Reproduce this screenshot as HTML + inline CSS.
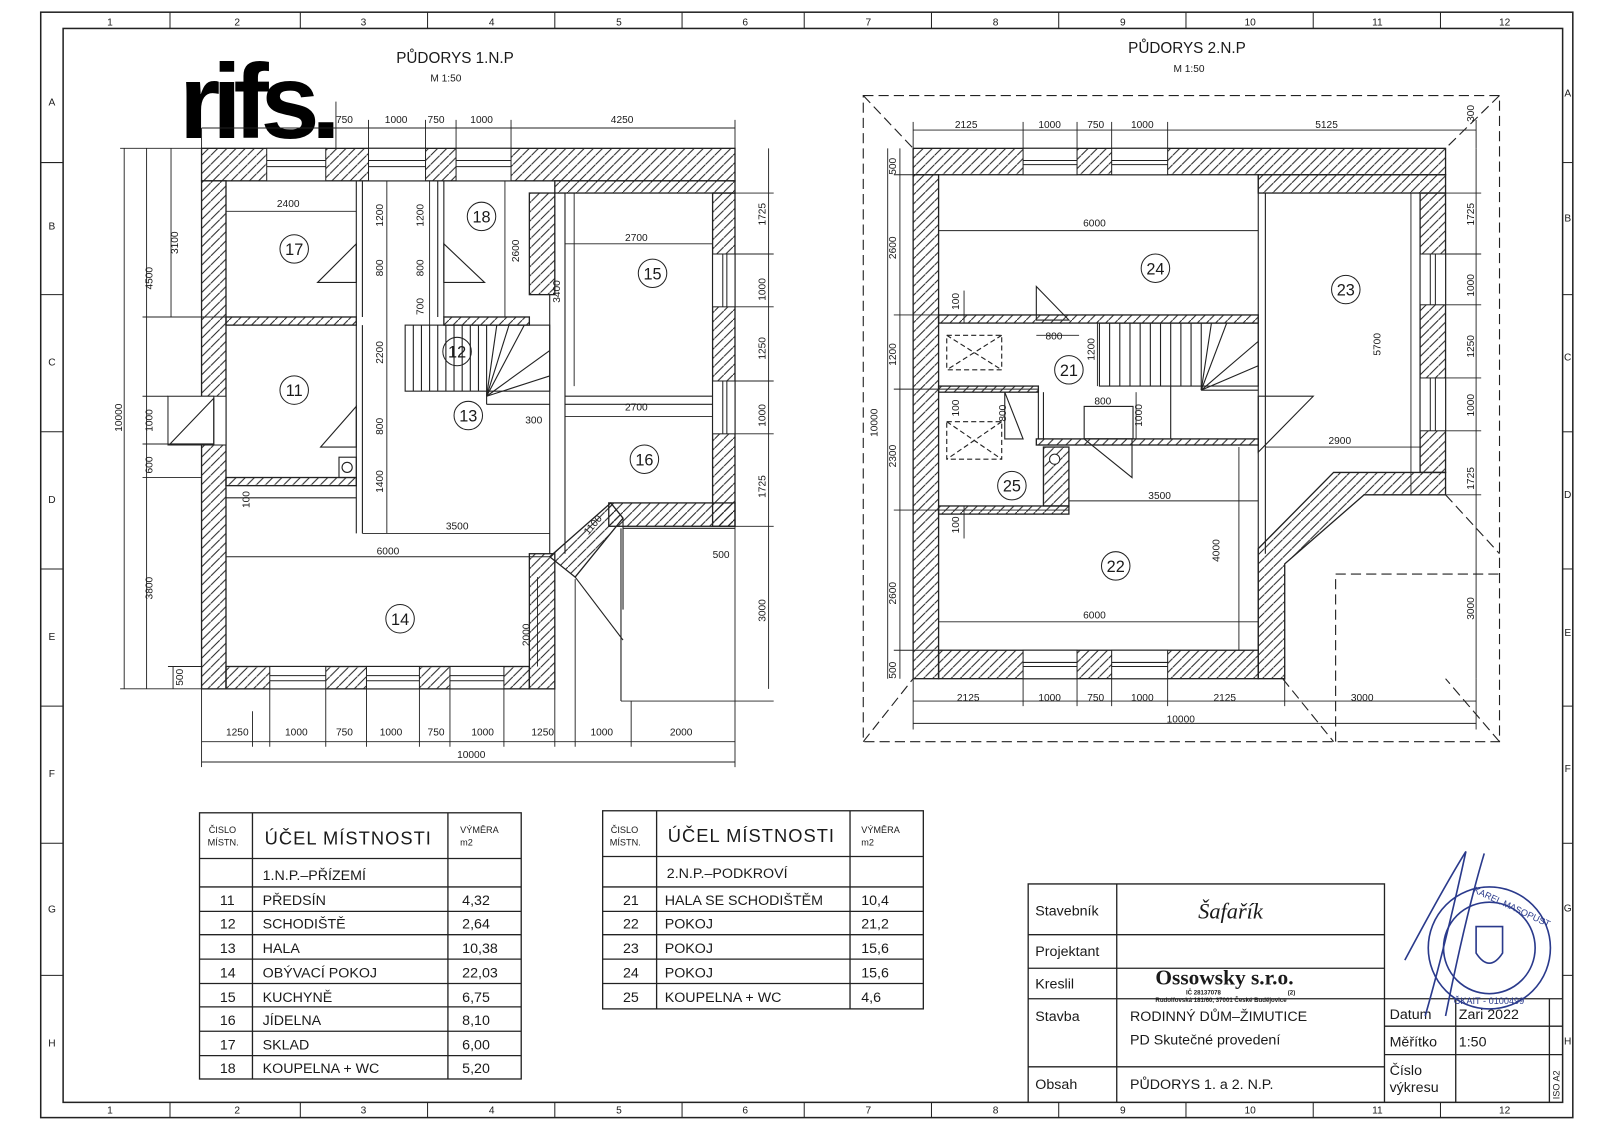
<!DOCTYPE html>
<html><head><meta charset="utf-8"><style>
html,body{margin:0;padding:0;background:#fff;}
svg{display:block;}
text{font-family:"Liberation Sans",sans-serif;fill:#1a1a1a;}
.d{font-size:10px;}
.t{font-size:14px;}
</style></head><body>
<svg width="1600" height="1138" viewBox="0 0 1600 1138" xmlns="http://www.w3.org/2000/svg">
<defs>
<pattern id="h" patternUnits="userSpaceOnUse" width="9" height="9"><path d="M-1,10 L10,-1" stroke="#222" stroke-width="1"/></pattern>
</defs>
<rect width="1600" height="1138" fill="#fff"/>
<g transform="scale(1.018,1.016)">
<!-- frame -->
<g fill="none" stroke="#222" stroke-width="1.5">
<rect x="40" y="12" width="1505" height="1088"/>
<rect x="62" y="28" width="1473" height="1057"/>
</g>
<g stroke="#222" stroke-width="1">
<line x1="167" y1="12" x2="167" y2="28"/><line x1="295" y1="12" x2="295" y2="28"/><line x1="420" y1="12" x2="420" y2="28"/><line x1="545" y1="12" x2="545" y2="28"/><line x1="670" y1="12" x2="670" y2="28"/><line x1="790" y1="12" x2="790" y2="28"/><line x1="915" y1="12" x2="915" y2="28"/><line x1="1040" y1="12" x2="1040" y2="28"/><line x1="1165" y1="12" x2="1165" y2="28"/><line x1="1290" y1="12" x2="1290" y2="28"/><line x1="1415" y1="12" x2="1415" y2="28"/>
<line x1="167" y1="1085" x2="167" y2="1100"/><line x1="295" y1="1085" x2="295" y2="1100"/><line x1="420" y1="1085" x2="420" y2="1100"/><line x1="545" y1="1085" x2="545" y2="1100"/><line x1="670" y1="1085" x2="670" y2="1100"/><line x1="790" y1="1085" x2="790" y2="1100"/><line x1="915" y1="1085" x2="915" y2="1100"/><line x1="1040" y1="1085" x2="1040" y2="1100"/><line x1="1165" y1="1085" x2="1165" y2="1100"/><line x1="1290" y1="1085" x2="1290" y2="1100"/><line x1="1415" y1="1085" x2="1415" y2="1100"/>
<line x1="40" y1="160" x2="62" y2="160"/><line x1="40" y1="290" x2="62" y2="290"/><line x1="40" y1="425" x2="62" y2="425"/><line x1="40" y1="560" x2="62" y2="560"/><line x1="40" y1="695" x2="62" y2="695"/><line x1="40" y1="830" x2="62" y2="830"/><line x1="40" y1="960" x2="62" y2="960"/>
<line x1="1535" y1="160" x2="1545" y2="160"/><line x1="1535" y1="290" x2="1545" y2="290"/><line x1="1535" y1="425" x2="1545" y2="425"/><line x1="1535" y1="560" x2="1545" y2="560"/><line x1="1535" y1="695" x2="1545" y2="695"/><line x1="1535" y1="830" x2="1545" y2="830"/><line x1="1535" y1="960" x2="1545" y2="960"/>
</g>
<g class="d" text-anchor="middle">
<text x="108" y="25">1</text><text x="233" y="25">2</text><text x="357" y="25">3</text><text x="483" y="25">4</text><text x="608" y="25">5</text><text x="732" y="25">6</text><text x="853" y="25">7</text><text x="978" y="25">8</text><text x="1103" y="25">9</text><text x="1228" y="25">10</text><text x="1353" y="25">11</text><text x="1478" y="25">12</text>
<text x="108" y="1096">1</text><text x="233" y="1096">2</text><text x="357" y="1096">3</text><text x="483" y="1096">4</text><text x="608" y="1096">5</text><text x="732" y="1096">6</text><text x="853" y="1096">7</text><text x="978" y="1096">8</text><text x="1103" y="1096">9</text><text x="1228" y="1096">10</text><text x="1353" y="1096">11</text><text x="1478" y="1096">12</text>
<text x="51" y="104">A</text><text x="51" y="226">B</text><text x="51" y="360">C</text><text x="51" y="495">D</text><text x="51" y="630">E</text><text x="51" y="765">F</text><text x="51" y="898">G</text><text x="51" y="1030">H</text>
<text x="1540" y="95">A</text><text x="1540" y="218">B</text><text x="1540" y="355">C</text><text x="1540" y="490">D</text><text x="1540" y="626">E</text><text x="1540" y="760">F</text><text x="1540" y="897">G</text><text x="1540" y="1028">H</text>
</g>

<!-- titles -->
<text x="447" y="62" text-anchor="middle" style="font-size:15px">PŮDORYS 1.N.P</text>
<text x="438" y="80" text-anchor="middle" class="d">M 1:50</text>
<text x="1166" y="52" text-anchor="middle" style="font-size:15px">PŮDORYS 2.N.P</text>
<text x="1168" y="71" text-anchor="middle" class="d">M 1:50</text>
<text x="176" y="136" style="font-size:104px;font-weight:bold;letter-spacing:-8px;fill:#000">rifs.</text>

<!-- ========== PLAN 1 ========== -->
<g stroke="#222" stroke-width="1.3" fill="url(#h)">
<rect x="198" y="146" width="524" height="32"/>
<rect x="545" y="178" width="177" height="12"/>
<rect x="198" y="178" width="24" height="500"/>
<rect x="700" y="190" width="22" height="328"/>
<rect x="598" y="495" width="124" height="23"/>
<polygon points="540,548 600,495 612,510 565,568"/>
<rect x="520" y="545" width="25" height="133"/>
<rect x="222" y="656" width="298" height="22"/>
<rect x="520" y="190" width="25" height="100"/>
<rect x="222" y="312" width="128" height="8"/>
<rect x="222" y="470" width="128" height="8"/>
<rect x="436" y="312" width="84" height="8"/>
</g>
<g stroke="#222" stroke-width="1" fill="#fff">
<rect x="262" y="146" width="58" height="32"/><line x1="262" y1="158" x2="320" y2="158"/><line x1="262" y1="164" x2="320" y2="164"/>
<rect x="362" y="146" width="56" height="32"/><line x1="362" y1="158" x2="418" y2="158"/><line x1="362" y1="164" x2="418" y2="164"/>
<rect x="448" y="146" width="54" height="32"/><line x1="448" y1="158" x2="502" y2="158"/><line x1="448" y1="164" x2="502" y2="164"/>
<rect x="265" y="656" width="55" height="22"/><line x1="265" y1="665" x2="320" y2="665"/><line x1="265" y1="670" x2="320" y2="670"/>
<rect x="360" y="656" width="52" height="22"/><line x1="360" y1="665" x2="412" y2="665"/><line x1="360" y1="670" x2="412" y2="670"/>
<rect x="442" y="656" width="53" height="22"/><line x1="442" y1="665" x2="495" y2="665"/><line x1="442" y1="670" x2="495" y2="670"/>
<rect x="700" y="250" width="22" height="52"/><line x1="710" y1="250" x2="710" y2="302"/><line x1="714" y1="250" x2="714" y2="302"/>
<rect x="700" y="375" width="22" height="52"/><line x1="710" y1="375" x2="710" y2="427"/><line x1="714" y1="375" x2="714" y2="427"/>
<rect x="198" y="390" width="24" height="48"/>
<rect x="165" y="390" width="45" height="48"/>
</g>
<g stroke="#222" stroke-width="1.1" fill="none">
<line x1="350" y1="178" x2="350" y2="312"/><line x1="356" y1="178" x2="356" y2="312"/>
<line x1="430" y1="178" x2="430" y2="312"/><line x1="436" y1="178" x2="436" y2="312"/>
<line x1="350" y1="320" x2="350" y2="525"/><line x1="356" y1="320" x2="356" y2="525"/>
<line x1="540" y1="290" x2="540" y2="545"/><line x1="555" y1="190" x2="555" y2="545"/>
<line x1="555" y1="390" x2="700" y2="390"/><line x1="555" y1="398" x2="700" y2="398"/>
<line x1="222" y1="490" x2="350" y2="490"/>
<rect x="398" y="320" width="142" height="65"/>
<line x1="406" y1="320" x2="406" y2="385"/><line x1="414" y1="320" x2="414" y2="385"/><line x1="422" y1="320" x2="422" y2="385"/><line x1="430" y1="320" x2="430" y2="385"/><line x1="438" y1="320" x2="438" y2="385"/><line x1="446" y1="320" x2="446" y2="385"/><line x1="454" y1="320" x2="454" y2="385"/><line x1="462" y1="320" x2="462" y2="385"/><line x1="470" y1="320" x2="470" y2="385"/>
<line x1="478" y1="390" x2="478" y2="320"/><line x1="478" y1="390" x2="488" y2="320"/><line x1="478" y1="390" x2="500" y2="320"/><line x1="478" y1="390" x2="515" y2="320"/><line x1="478" y1="390" x2="540" y2="345"/><line x1="478" y1="390" x2="540" y2="370"/>
<line x1="478" y1="390" x2="478" y2="398"/><line x1="478" y1="398" x2="540" y2="398"/>
<polygon points="312,278 350,240 350,278"/>
<polygon points="436,240 476,278 436,278"/>
<polygon points="315,440 350,400 350,440"/>
<polygon points="167,437 210,392 210,437"/>
<line x1="565" y1="568" x2="612" y2="630"/><line x1="612" y1="510" x2="612" y2="600"/>
<line x1="612" y1="520" x2="722" y2="520"/>
<line x1="610" y1="520" x2="610" y2="690"/>
<rect x="333" y="450" width="17" height="20"/><circle cx="341" cy="460" r="5"/>
</g>
<g stroke="#222" stroke-width="0.9" fill="none">
<line x1="198" y1="126" x2="722" y2="126"/>
<line x1="198" y1="126" x2="198" y2="146"/><line x1="362" y1="118" x2="362" y2="146"/><line x1="418" y1="118" x2="418" y2="146"/><line x1="448" y1="118" x2="448" y2="146"/><line x1="502" y1="118" x2="502" y2="146"/><line x1="722" y1="118" x2="722" y2="146"/>
<line x1="198" y1="730" x2="722" y2="730"/><line x1="198" y1="750" x2="722" y2="750"/>
<line x1="198" y1="678" x2="198" y2="755"/><line x1="248" y1="700" x2="248" y2="735"/><line x1="265" y1="678" x2="265" y2="735"/><line x1="320" y1="678" x2="320" y2="735"/><line x1="360" y1="678" x2="360" y2="735"/><line x1="412" y1="678" x2="412" y2="735"/><line x1="442" y1="678" x2="442" y2="735"/><line x1="495" y1="678" x2="495" y2="735"/><line x1="545" y1="678" x2="545" y2="735"/><line x1="565" y1="570" x2="565" y2="735"/><line x1="620" y1="690" x2="620" y2="735"/><line x1="722" y1="518" x2="722" y2="755"/>
<line x1="122" y1="146" x2="122" y2="678"/><line x1="144" y1="146" x2="144" y2="678"/><line x1="168" y1="146" x2="168" y2="312"/><line x1="170" y1="656" x2="170" y2="678"/>
<line x1="118" y1="146" x2="198" y2="146"/><line x1="118" y1="678" x2="198" y2="678"/><line x1="140" y1="390" x2="165" y2="390"/><line x1="140" y1="437" x2="198" y2="437"/><line x1="140" y1="470" x2="198" y2="470"/><line x1="140" y1="312" x2="222" y2="312"/><line x1="165" y1="656" x2="198" y2="656"/>
<line x1="755" y1="146" x2="755" y2="678"/>
<line x1="722" y1="190" x2="760" y2="190"/><line x1="722" y1="250" x2="760" y2="250"/><line x1="722" y1="302" x2="760" y2="302"/><line x1="722" y1="375" x2="760" y2="375"/><line x1="722" y1="427" x2="760" y2="427"/><line x1="722" y1="518" x2="760" y2="518"/><line x1="610" y1="690" x2="760" y2="690"/>
<line x1="222" y1="208" x2="350" y2="208"/><line x1="555" y1="240" x2="700" y2="240"/><line x1="555" y1="410" x2="700" y2="410"/>
<line x1="356" y1="525" x2="540" y2="525"/><line x1="222" y1="548" x2="540" y2="548"/>
<line x1="380" y1="178" x2="380" y2="525"/><line x1="422" y1="178" x2="422" y2="320"/><line x1="496" y1="178" x2="496" y2="312"/><line x1="564" y1="190" x2="564" y2="380"/><line x1="528" y1="568" x2="528" y2="656"/>
<line x1="330" y1="100" x2="330" y2="146"/>
</g>
<g class="d">
<text x="600" y="121">4250</text><text x="378" y="121">1000</text><text x="420" y="121">750</text><text x="462" y="121">1000</text><text x="330" y="121">750</text>
<text x="222" y="724">1250</text><text x="280" y="724">1000</text><text x="330" y="724">750</text><text x="373" y="724">1000</text><text x="420" y="724">750</text><text x="463" y="724">1000</text><text x="522" y="724">1250</text><text x="580" y="724">1000</text><text x="658" y="724">2000</text>
<text x="449" y="746">10000</text>
<text x="272" y="204">2400</text><text x="614" y="237">2700</text><text x="614" y="404">2700</text><text x="438" y="521">3500</text><text x="370" y="546">6000</text><text x="516" y="417">300</text><text x="700" y="549">500</text>
</g>
<g class="d">
<text transform="translate(120,425) rotate(-90)">10000</text>
<text transform="translate(150,285) rotate(-90)">4500</text>
<text transform="translate(175,250) rotate(-90)">3100</text>
<text transform="translate(150,425) rotate(-90)">1000</text>
<text transform="translate(150,466) rotate(-90)">600</text>
<text transform="translate(150,590) rotate(-90)">3800</text>
<text transform="translate(180,675) rotate(-90)">500</text>
<text transform="translate(245,500) rotate(-90)">100</text>
<text transform="translate(376,223) rotate(-90)">1200</text>
<text transform="translate(376,272) rotate(-90)">800</text>
<text transform="translate(376,358) rotate(-90)">2200</text>
<text transform="translate(376,428) rotate(-90)">800</text>
<text transform="translate(376,485) rotate(-90)">1400</text>
<text transform="translate(416,223) rotate(-90)">1200</text>
<text transform="translate(416,272) rotate(-90)">800</text>
<text transform="translate(416,310) rotate(-90)">700</text>
<text transform="translate(510,258) rotate(-90)">2600</text>
<text transform="translate(550,298) rotate(-90)">3400</text>
<text transform="translate(520,636) rotate(-90)">2000</text>
<text transform="translate(578,527) rotate(-50)">1100</text>
<text transform="translate(752,222) rotate(-90)">1725</text>
<text transform="translate(752,296) rotate(-90)">1000</text>
<text transform="translate(752,354) rotate(-90)">1250</text>
<text transform="translate(752,420) rotate(-90)">1000</text>
<text transform="translate(752,490) rotate(-90)">1725</text>
<text transform="translate(752,612) rotate(-90)">3000</text>
</g>
<g fill="none" stroke="#222" stroke-width="1"><circle cx="289" cy="245" r="14"/><circle cx="473" cy="213" r="14"/><circle cx="641" cy="269" r="14"/><circle cx="449" cy="346" r="14"/><circle cx="289" cy="384" r="14"/><circle cx="460" cy="409" r="14"/><circle cx="633" cy="452" r="14"/><circle cx="393" cy="609" r="14"/></g>
<g style="font-size:16px" text-anchor="middle"><text x="289" y="251">17</text><text x="473" y="219">18</text><text x="641" y="275">15</text><text x="449" y="352">12</text><text x="289" y="390">11</text><text x="460" y="415">13</text><text x="633" y="458">16</text><text x="393" y="615">14</text></g>

<!-- ========== PLAN 2 ========== -->
<g stroke="#222" stroke-width="1.1" fill="none" stroke-dasharray="10,5">
<rect x="848" y="94" width="625" height="636"/>
<line x1="848" y1="94" x2="897" y2="146"/><line x1="1473" y1="94" x2="1420" y2="146"/><line x1="848" y1="730" x2="897" y2="668"/><line x1="1473" y1="730" x2="1420" y2="668"/><line x1="1260" y1="668" x2="1310" y2="730"/><line x1="1420" y1="487" x2="1473" y2="545"/>
<polyline points="1312,730 1312,565 1473,565"/>
</g>
<g stroke="#222" stroke-width="1.3" fill="url(#h)">
<rect x="897" y="146" width="523" height="26"/>
<rect x="1236" y="172" width="184" height="18"/>
<rect x="897" y="172" width="25" height="496"/>
<rect x="1395" y="190" width="25" height="275"/>
<polygon points="1395,465 1420,465 1420,487 1340,487 1262,555 1262,668 1236,668 1236,540 1310,465"/>
<rect x="922" y="640" width="314" height="28"/>
<rect x="922" y="310" width="314" height="8"/>
<rect x="922" y="380" width="98" height="6"/>
<rect x="1018" y="432" width="218" height="6"/>
<rect x="922" y="498" width="128" height="8"/>
<rect x="1025" y="440" width="25" height="58"/>
</g>
<g stroke="#222" stroke-width="1" fill="#fff">
<rect x="1005" y="146" width="53" height="26"/><line x1="1005" y1="158" x2="1058" y2="158"/><line x1="1005" y1="162" x2="1058" y2="162"/>
<rect x="1092" y="146" width="55" height="26"/><line x1="1092" y1="158" x2="1147" y2="158"/><line x1="1092" y1="162" x2="1147" y2="162"/>
<rect x="1005" y="640" width="53" height="28"/><line x1="1005" y1="652" x2="1058" y2="652"/><line x1="1005" y1="656" x2="1058" y2="656"/>
<rect x="1092" y="640" width="55" height="28"/><line x1="1092" y1="652" x2="1147" y2="652"/><line x1="1092" y1="656" x2="1147" y2="656"/>
<rect x="1395" y="250" width="25" height="50"/><line x1="1405" y1="250" x2="1405" y2="300"/><line x1="1410" y1="250" x2="1410" y2="300"/>
<rect x="1395" y="372" width="25" height="52"/><line x1="1405" y1="372" x2="1405" y2="424"/><line x1="1410" y1="372" x2="1410" y2="424"/>
<circle cx="1036" cy="452" r="5"/>
</g>
<g stroke="#222" stroke-width="1.1" fill="none">
<line x1="1236" y1="172" x2="1236" y2="640"/><line x1="1243" y1="190" x2="1243" y2="545"/>
<line x1="1020" y1="386" x2="1020" y2="432"/><line x1="1025" y1="386" x2="1025" y2="432"/>
<rect x="1080" y="318" width="156" height="62"/>
<line x1="1090" y1="318" x2="1090" y2="380"/><line x1="1100" y1="318" x2="1100" y2="380"/><line x1="1110" y1="318" x2="1110" y2="380"/><line x1="1120" y1="318" x2="1120" y2="380"/><line x1="1130" y1="318" x2="1130" y2="380"/><line x1="1140" y1="318" x2="1140" y2="380"/><line x1="1150" y1="318" x2="1150" y2="380"/><line x1="1160" y1="318" x2="1160" y2="380"/><line x1="1170" y1="318" x2="1170" y2="380"/>
<line x1="1180" y1="384" x2="1180" y2="318"/><line x1="1180" y1="384" x2="1190" y2="318"/><line x1="1180" y1="384" x2="1205" y2="318"/><line x1="1180" y1="384" x2="1236" y2="336"/><line x1="1180" y1="384" x2="1236" y2="360"/>
<line x1="1180" y1="384" x2="1236" y2="384"/><line x1="1150" y1="380" x2="1150" y2="432"/>
<polygon points="1018,315 1018,282 1050,315"/>
<polygon points="1065,432 1112,432 1112,470"/>
<polygon points="1236,390 1290,390 1236,445"/>
<polygon points="987,386 987,432 1005,432"/>
<rect x="1065" y="400" width="48" height="32"/>
<g stroke-dasharray="5,3"><rect x="930" y="330" width="54" height="34"/><line x1="930" y1="330" x2="984" y2="364"/><line x1="984" y1="330" x2="930" y2="364"/><rect x="930" y="415" width="54" height="37"/><line x1="930" y1="415" x2="984" y2="452"/><line x1="984" y1="415" x2="930" y2="452"/></g>
</g>
<g stroke="#222" stroke-width="0.9" fill="none">
<line x1="897" y1="128" x2="1450" y2="128"/>
<line x1="897" y1="120" x2="897" y2="146"/><line x1="1005" y1="120" x2="1005" y2="146"/><line x1="1058" y1="120" x2="1058" y2="146"/><line x1="1092" y1="120" x2="1092" y2="146"/><line x1="1147" y1="120" x2="1147" y2="146"/><line x1="1450" y1="118" x2="1450" y2="146"/>
<line x1="897" y1="690" x2="1450" y2="690"/><line x1="897" y1="712" x2="1450" y2="712"/>
<line x1="897" y1="668" x2="897" y2="718"/><line x1="1005" y1="668" x2="1005" y2="695"/><line x1="1058" y1="668" x2="1058" y2="695"/><line x1="1092" y1="668" x2="1092" y2="695"/><line x1="1147" y1="668" x2="1147" y2="695"/><line x1="1262" y1="668" x2="1262" y2="695"/><line x1="1450" y1="668" x2="1450" y2="718"/>
<line x1="872" y1="146" x2="872" y2="668"/><line x1="884" y1="146" x2="884" y2="668"/>
<line x1="878" y1="172" x2="922" y2="172"/><line x1="878" y1="310" x2="922" y2="310"/><line x1="878" y1="383" x2="1020" y2="383"/><line x1="878" y1="502" x2="1050" y2="502"/><line x1="878" y1="640" x2="922" y2="640"/>
<line x1="1450" y1="146" x2="1450" y2="668"/>
<line x1="1420" y1="190" x2="1455" y2="190"/><line x1="1420" y1="250" x2="1455" y2="250"/><line x1="1420" y1="300" x2="1455" y2="300"/><line x1="1420" y1="372" x2="1455" y2="372"/><line x1="1420" y1="424" x2="1455" y2="424"/><line x1="1420" y1="487" x2="1455" y2="487"/>
<line x1="922" y1="227" x2="1236" y2="227"/><line x1="922" y1="612" x2="1236" y2="612"/><line x1="1050" y1="493" x2="1236" y2="493"/><line x1="1243" y1="440" x2="1395" y2="440"/>
<line x1="1018" y1="330" x2="1060" y2="330"/><line x1="1065" y1="400" x2="1113" y2="400"/>
<line x1="1386" y1="190" x2="1386" y2="487"/><line x1="1217" y1="440" x2="1217" y2="640"/><line x1="1078" y1="318" x2="1078" y2="380"/><line x1="1116" y1="386" x2="1116" y2="432"/><line x1="947" y1="286" x2="947" y2="318"/><line x1="947" y1="498" x2="947" y2="530"/>
</g>
<g class="d">
<text x="938" y="126">2125</text><text x="1020" y="126">1000</text><text x="1068" y="126">750</text><text x="1111" y="126">1000</text><text x="1292" y="126">5125</text>
<text x="940" y="690">2125</text><text x="1020" y="690">1000</text><text x="1068" y="690">750</text><text x="1111" y="690">1000</text><text x="1192" y="690">2125</text><text x="1327" y="690">3000</text>
<text x="1146" y="711">10000</text>
<text x="1064" y="223">6000</text><text x="1064" y="609">6000</text><text x="1128" y="491">3500</text><text x="1305" y="437">2900</text><text x="1027" y="334">800</text><text x="1075" y="398">800</text>
</g>
<g class="d">
<text transform="translate(880,172) rotate(-90)">500</text>
<text transform="translate(880,255) rotate(-90)">2600</text>
<text transform="translate(880,360) rotate(-90)">1200</text>
<text transform="translate(862,430) rotate(-90)">10000</text>
<text transform="translate(880,460) rotate(-90)">2300</text>
<text transform="translate(880,595) rotate(-90)">2600</text>
<text transform="translate(880,668) rotate(-90)">500</text>
<text transform="translate(942,305) rotate(-90)">100</text>
<text transform="translate(942,410) rotate(-90)">100</text>
<text transform="translate(942,525) rotate(-90)">100</text>
<text transform="translate(988,415) rotate(-90)">800</text>
<text transform="translate(1075,355) rotate(-90)">1200</text>
<text transform="translate(1122,420) rotate(-90)">1000</text>
<text transform="translate(1198,553) rotate(-90)">4000</text>
<text transform="translate(1356,350) rotate(-90)">5700</text>
<text transform="translate(1448,120) rotate(-90)">300</text>
<text transform="translate(1448,222) rotate(-90)">1725</text>
<text transform="translate(1448,292) rotate(-90)">1000</text>
<text transform="translate(1448,352) rotate(-90)">1250</text>
<text transform="translate(1448,410) rotate(-90)">1000</text>
<text transform="translate(1448,482) rotate(-90)">1725</text>
<text transform="translate(1448,610) rotate(-90)">3000</text>
</g>
<g fill="none" stroke="#222" stroke-width="1"><circle cx="1135" cy="264" r="14"/><circle cx="1322" cy="285" r="14"/><circle cx="1050" cy="364" r="14"/><circle cx="994" cy="478" r="14"/><circle cx="1096" cy="557" r="14"/></g>
<g style="font-size:16px" text-anchor="middle"><text x="1135" y="270">24</text><text x="1322" y="291">23</text><text x="1050" y="370">21</text><text x="994" y="484">25</text><text x="1096" y="563">22</text></g>

<!-- ========== TABLES ========== -->
<g stroke="#222" stroke-width="1.3" fill="none">
<rect x="196" y="800" width="316" height="262"/>
<line x1="248" y1="800" x2="248" y2="1062"/><line x1="440" y1="800" x2="440" y2="1062"/>
<line x1="196" y1="845" x2="512" y2="845"/><line x1="196" y1="873" x2="512" y2="873"/><line x1="196" y1="897" x2="512" y2="897"/><line x1="196" y1="920" x2="512" y2="920"/><line x1="196" y1="944" x2="512" y2="944"/><line x1="196" y1="968" x2="512" y2="968"/><line x1="196" y1="991" x2="512" y2="991"/><line x1="196" y1="1015" x2="512" y2="1015"/><line x1="196" y1="1039" x2="512" y2="1039"/>
<rect x="592" y="798" width="315" height="195"/>
<line x1="645" y1="798" x2="645" y2="993"/><line x1="835" y1="798" x2="835" y2="993"/>
<line x1="592" y1="843" x2="907" y2="843"/><line x1="592" y1="873" x2="907" y2="873"/><line x1="592" y1="897" x2="907" y2="897"/><line x1="592" y1="920" x2="907" y2="920"/><line x1="592" y1="944" x2="907" y2="944"/><line x1="592" y1="968" x2="907" y2="968"/>
</g>
<g style="font-size:9px"><text x="205" y="820">ČISLO</text><text x="204" y="832">MÍSTN.</text><text x="452" y="820">VÝMĚRA</text><text x="452" y="832">m2</text>
<text x="600" y="820">ČISLO</text><text x="599" y="832">MÍSTN.</text><text x="846" y="820">VÝMĚRA</text><text x="846" y="832">m2</text></g>
<g style="font-size:18px;letter-spacing:1px"><text x="260" y="831">ÚČEL MÍSTNOSTI</text><text x="656" y="829">ÚČEL MÍSTNOSTI</text></g>
<g class="t">
<text x="258" y="866">1.N.P.–PŘÍZEMÍ</text>
<text x="216" y="891">11</text><text x="258" y="891">PŘEDSÍN</text><text x="454" y="891">4,32</text>
<text x="216" y="914">12</text><text x="258" y="914">SCHODIŠTĚ</text><text x="454" y="914">2,64</text>
<text x="216" y="938">13</text><text x="258" y="938">HALA</text><text x="454" y="938">10,38</text>
<text x="216" y="962">14</text><text x="258" y="962">OBÝVACÍ POKOJ</text><text x="454" y="962">22,03</text>
<text x="216" y="986">15</text><text x="258" y="986">KUCHYNĚ</text><text x="454" y="986">6,75</text>
<text x="216" y="1009">16</text><text x="258" y="1009">JÍDELNA</text><text x="454" y="1009">8,10</text>
<text x="216" y="1033">17</text><text x="258" y="1033">SKLAD</text><text x="454" y="1033">6,00</text>
<text x="216" y="1056">18</text><text x="258" y="1056">KOUPELNA + WC</text><text x="454" y="1056">5,20</text>
<text x="655" y="864">2.N.P.–PODKROVÍ</text>
<text x="612" y="891">21</text><text x="653" y="891">HALA SE SCHODIŠTĚM</text><text x="846" y="891">10,4</text>
<text x="612" y="914">22</text><text x="653" y="914">POKOJ</text><text x="846" y="914">21,2</text>
<text x="612" y="938">23</text><text x="653" y="938">POKOJ</text><text x="846" y="938">15,6</text>
<text x="612" y="962">24</text><text x="653" y="962">POKOJ</text><text x="846" y="962">15,6</text>
<text x="612" y="986">25</text><text x="653" y="986">KOUPELNA + WC</text><text x="846" y="986">4,6</text>
</g>

<!-- ========== TITLE BLOCK ========== -->
<g stroke="#222" stroke-width="1.3" fill="none">
<polyline points="1360,1085 1360,870 1010,870 1010,1085"/>
<line x1="1097" y1="870" x2="1097" y2="1085"/>
<line x1="1010" y1="920" x2="1360" y2="920"/><line x1="1010" y1="953" x2="1360" y2="953"/><line x1="1010" y1="983" x2="1360" y2="983"/><line x1="1010" y1="1050" x2="1360" y2="1050"/>
<line x1="1360" y1="983" x2="1535" y2="983"/><line x1="1360" y1="1010" x2="1535" y2="1010"/><line x1="1360" y1="1038" x2="1535" y2="1038"/>
<line x1="1430" y1="983" x2="1430" y2="1085"/><line x1="1522" y1="983" x2="1522" y2="1085"/>
</g>
<g class="t">
<text x="1017" y="901">Stavebník</text><text x="1017" y="941">Projektant</text><text x="1017" y="973">Kreslil</text><text x="1017" y="1005">Stavba</text><text x="1017" y="1072">Obsah</text>
<text x="1110" y="1005">RODINNÝ DŮM–ŽIMUTICE</text><text x="1110" y="1028">PD Skutečné provedení</text><text x="1110" y="1072">PŮDORYS 1. a 2. N.P.</text>
<text x="1365" y="1003">Datum</text><text x="1433" y="1003">Zari 2022</text><text x="1365" y="1030">Měřítko</text><text x="1433" y="1030">1:50</text><text x="1365" y="1058">Číslo</text><text x="1365" y="1075">výkresu</text>
</g>
<text x="1177" y="904" style="font-size:22px;font-family:'Liberation Serif',serif;font-style:italic">Šafařík</text>
<text x="1135" y="969" style="font-size:21px;font-family:'Liberation Serif',serif;font-weight:bold">Ossowsky s.r.o.</text>
<text x="1165" y="979" style="font-size:6px;font-weight:bold">IČ 28137078</text><text x="1265" y="979" style="font-size:6px;font-weight:bold">(2)</text>
<text x="1135" y="986" style="font-size:6px;font-weight:bold">Rudolfovská 181/60, 37001 České Budějovice</text>
<text transform="translate(1532,1082) rotate(-90)" style="font-size:9px">ISO A2</text>
<g stroke="#2a3a8c" fill="none" stroke-width="1.6">
<circle cx="1463" cy="933" r="60"/><circle cx="1463" cy="933" r="45"/>
<path d="M1450,912 L1476,912 L1476,938 Q1463,958 1450,938 Z"/>
<path d="M1380,945 Q1420,870 1440,838 Q1420,930 1400,1000"/>
<path d="M1420,1000 Q1440,900 1458,840"/>
</g>
<text x="1425" y="890" style="font-size:9px;fill:#2a3a8c" transform="rotate(25 1463 933)">KAREL MASOPUST</text>
<text x="1428" y="988" style="font-size:9px;fill:#2a3a8c">ČKAIT - 0100499</text>
</g>
</svg>
</body></html>
